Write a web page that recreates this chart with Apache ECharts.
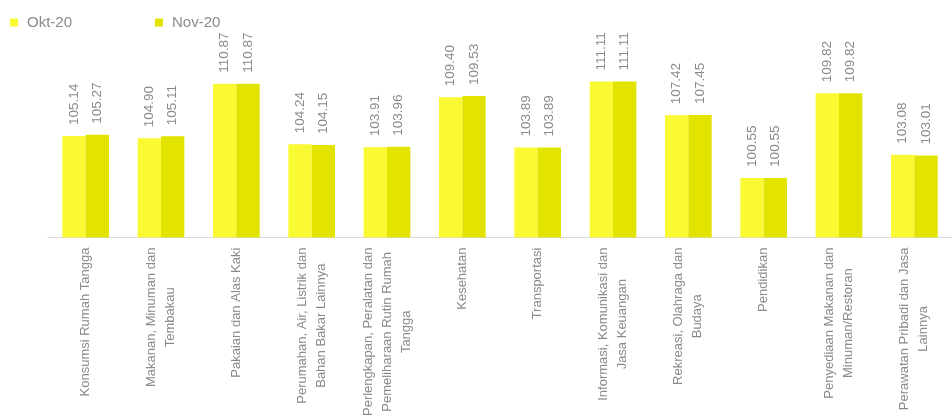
<!DOCTYPE html>
<html>
<head>
<meta charset="utf-8">
<style>
  html, body { margin: 0; padding: 0; background: #ffffff; }
  #chart { width: 952px; height: 419px; }
</style>
<script src="https://cdn.jsdelivr.net/npm/echarts@6/dist/echarts.min.js"></script>
</head>
<body>
<div id="chart"></div>
<script>
// Kelompok pengeluaran (nama kategori, baris dipisah dengan \n)
const categories = [
  "Konsumsi Rumah Tangga",
  "Makanan, Minuman dan\nTembakau",
  "Pakaian dan Alas Kaki",
  "Perumahan, Air, Listrik dan\nBahan Bakar Lainnya",
  "Perlengkapan, Peralatan dan\nPemeliharaan Rutin Rumah\nTangga",
  "Kesehatan",
  "Transportasi",
  "Informasi, Komunikasi dan\nJasa Keuangan",
  "Rekreasi, Olahraga dan\nBudaya",
  "Pendidikan",
  "Penyediaan Makanan dan\nMinuman/Restoran",
  "Perawatan Pribadi dan Jasa\nLainnya"
];

const seriesNames = ["Okt-20", "Nov-20"];

const okt20 = [105.14, 104.90, 110.87, 104.24, 103.91, 109.40, 103.89, 111.11, 107.42, 100.55, 109.82, 103.08];
const nov20 = [105.27, 105.11, 110.87, 104.15, 103.96, 109.53, 103.89, 111.11, 107.45, 100.55, 109.82, 103.01];

const colors = ["#F9F934", "#E3E300"];

const FONT = "Liberation Sans, Arial, sans-serif";
const TEXT_COLOR = "#8a8a8a";

const chart = echarts.init(document.getElementById("chart"), null, { renderer: "canvas" });

const valueLabel = {
  show: true,
  position: "top",
  rotate: 90,
  align: "left",
  verticalAlign: "middle",
  distance: 11,
  fontFamily: FONT,
  fontSize: 13.5,
  color: TEXT_COLOR,
  formatter: p => p.value.toFixed(2)
};

chart.setOption({
  animation: false,
  color: colors,
  legend: {
    left: 10,
    top: 15,
    padding: 0,
    icon: "rect",
    itemWidth: 8,
    itemHeight: 8,
    itemGap: 83,
    textStyle: {
      fontFamily: FONT,
      fontSize: 15,
      color: TEXT_COLOR,
      padding: [0, 0, 0, 4]
    },
    data: seriesNames
  },
  grid: {
    left: 48,
    right: 0,
    top: 73.5,
    bottom: 181,
    containLabel: false
  },
  xAxis: {
    type: "category",
    data: categories,
    axisTick: { show: false },
    axisLine: { lineStyle: { color: "#d9d9d9", width: 1 } },
    axisLabel: {
      interval: 0,
      rotate: 90,
      margin: 10,
      color: TEXT_COLOR,
      fontFamily: FONT,
      fontSize: 13,
      lineHeight: 19,
      formatter: v => v.split("\n").map(l => "{c|" + l + "}").join("\n"),
      rich: {
        c: {
          align: "center",
          color: TEXT_COLOR,
          fontFamily: FONT,
          fontSize: 13,
          lineHeight: 19
        }
      }
    }
  },
  yAxis: {
    type: "value",
    min: 94,
    max: 112,
    show: false,
    splitLine: { show: false }
  },
  series: [
    {
      name: seriesNames[0],
      type: "bar",
      data: okt20,
      barGap: "0%",
      barCategoryGap: "38%",
      label: valueLabel
    },
    {
      name: seriesNames[1],
      type: "bar",
      data: nov20,
      barGap: "0%",
      barCategoryGap: "38%",
      label: valueLabel
    }
  ]
});
</script>
</body>
</html>
